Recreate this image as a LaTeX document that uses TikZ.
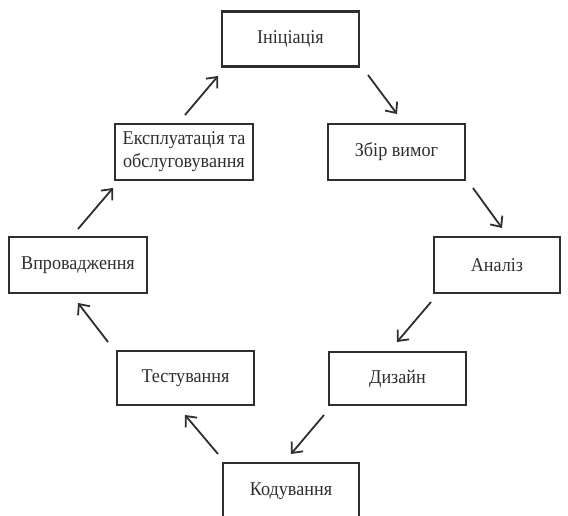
\documentclass[tikz,border=0pt]{standalone}
\usepackage{fontspec}
\setmainfont{Liberation Serif}[FakeStretch=0.93]
\usetikzlibrary{arrows.meta}
\definecolor{ink}{HTML}{2E2E2E}
\begin{document}
\begin{tikzpicture}[x=1pt,y=1pt,
  box/.style={draw=ink, line width=2.2pt, minimum height=55pt, inner sep=0pt, text=ink, font=\fontsize{19.5}{23}\selectfont, align=center},
  arr/.style={draw=ink, line width=1.8pt, -{Straight Barb[length=8.5pt,width=15pt,line width=1.8pt]}}]
\useasboundingbox (0,0) rectangle (568,-516);
\clip (0,0) rectangle (568,-516);
\node[box, minimum width=137pt] (ini) at (290.5,-39) {Ініціація};
\node[box, minimum width=138pt, minimum height=56pt] (ekspl) at (184,-152) {Експлуатація та\\обслуговування};
\node[box, minimum width=137pt, minimum height=56pt] (zbir) at (396.5,-152) {Збір вимог};
\node[box, minimum width=138pt, minimum height=56pt] (vpr) at (78,-265) {Впровадження};
\node[box, minimum width=126pt, minimum height=56pt] (analiz) at (497,-265) {Аналіз};
\node[box, minimum width=137pt, minimum height=53pt] (dyz) at (397.5,-378.5) {Дизайн};
\node[box, minimum width=137pt, minimum height=54pt] (test) at (185.5,-378) {Тестування};
\node[box, minimum width=136pt, minimum height=56pt] (kod) at (291,-491) {Кодування};
\draw[arr] ([shift={(1,37)}]ekspl.center) -- ([shift={(-72.5,-37)}]ini.center);
\draw[arr] ([shift={(77.5,-36)}]ini.center) -- ([shift={(0.5,38)}]zbir.center);
\draw[arr] ([shift={(76.5,-36)}]zbir.center) -- ([shift={(5,37)}]analiz.center);
\draw[arr] ([shift={(-66,-37)}]analiz.center) -- ([shift={(-0.5,36.5)}]dyz.center);
\draw[arr] ([shift={(-73.5,-36.5)}]dyz.center) -- ([shift={(0,37)}]kod.center);
\draw[arr] ([shift={(-73,37)}]kod.center) -- ([shift={(-0.5,-37)}]test.center);
\draw[arr] ([shift={(-77.5,36)}]test.center) -- ([shift={(0,-38)}]vpr.center);
\draw[arr] ([shift={(0,36)}]vpr.center) -- ([shift={(-71,-36)}]ekspl.center);
\end{tikzpicture}
\end{document}
